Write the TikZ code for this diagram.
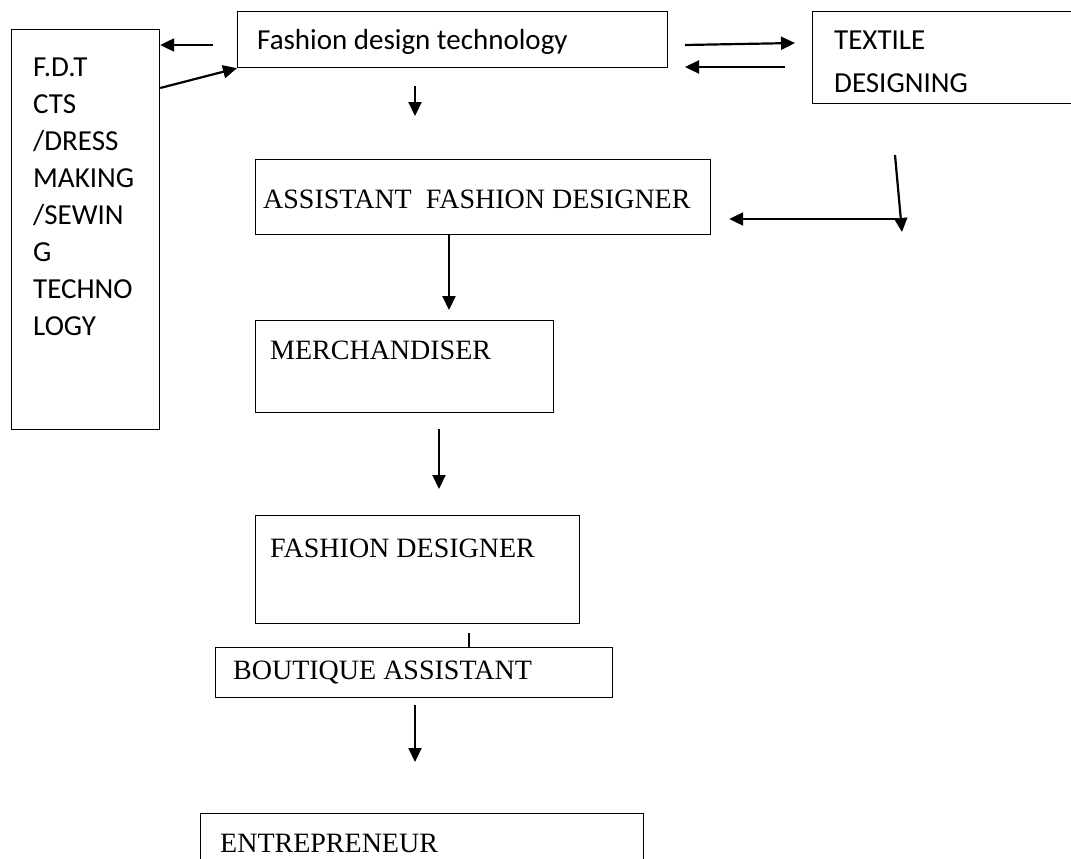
\documentclass[tikz,border=0pt]{standalone}
\usepackage{fontspec}
\setmainfont{Liberation Serif}
\newfontfamily\calibri{Carlito}
\usetikzlibrary{arrows.meta,positioning}

\tikzset{
  box/.style={draw,line width=1.2pt,anchor=north west,inner sep=0pt},
  serif/.style={font=\fontsize{28}{34}\selectfont,inner sep=0pt,anchor=west},
  sans/.style={font=\calibri\fontsize{29}{37}\selectfont,inner sep=0pt,align=left,anchor=north west},
  link/.style={-{Triangle[length=14pt,width=13pt]},line width=2.2pt},
}

\begin{document}
\begin{tikzpicture}[x=1pt,y=-1pt]
\useasboundingbox (0,0) rectangle (1071,859);

% boxes
\node[box,minimum width=148pt,minimum height=400pt] (fdt) at (11,29) {};
\node[box,minimum width=430pt,minimum height=56pt] (fashion) at (237,11) {};
\node[box,minimum width=270pt,minimum height=92pt] (textile) at (812,11) {};
\node[box,minimum width=455pt,minimum height=75pt] (assistant) at (255,159) {};
\node[box,minimum width=298pt,minimum height=92pt] (merch) at (255,320) {};
\node[box,minimum width=324pt,minimum height=108pt] (fashdes) at (255,515) {};
\node[box,minimum width=397pt,minimum height=50pt] (boutique) at (215,647) {};
\node[box,minimum width=443pt,minimum height=60pt] (entre) at (200,813) {};

% texts
\node[sans] (fdtText) at ([xshift=22pt,yshift=-29pt]fdt.north west)
  {F.D.T\\CTS\\/DRESS\\MAKING\\/SEWIN\\G\\TECHNO\\LOGY};
\node[sans,anchor=west] (fashionText) at ([xshift=20pt,yshift=-31pt]fashion.north west) {Fashion design technology};
\node[sans,font=\calibri\fontsize{29}{43}\selectfont] (textileText) at ([xshift=22pt,yshift=-20pt]textile.north west) {TEXTILE\\DESIGNING};
\node[serif] (assistantText) at ([xshift=8pt,yshift=-40pt]assistant.north west) {ASSISTANT\ \ FASHION DESIGNER};
\node[serif] (merchText) at ([xshift=15pt,yshift=-30pt]merch.north west) {MERCHANDISER};
\node[serif] (fashdesText) at ([xshift=15pt,yshift=-33pt]fashdes.north west) {FASHION DESIGNER};
\node[serif] (boutiqueText) at ([xshift=18pt,yshift=-25pt]boutique.north west) {BOUTIQUE ASSISTANT};
\node[serif] (entreText) at ([xshift=20pt,yshift=-30pt]entre.north west) {ENTREPRENEUR};

% loose arrow ends
\coordinate (fdtIn) at (213,45);
\coordinate (textOutA) at (685,45);
\coordinate (textInA) at (795,43);
\coordinate (textOutB) at (785,67);
\coordinate (textInB) at (685,67);
\coordinate (downA) at (415,86);
\coordinate (downB) at (415,116);
\coordinate (sideTop) at (895,155);
\coordinate (sideBot) at (902,232);
\coordinate (sideMid) at (898,219);
\coordinate (merchIn) at (449,310);
\coordinate (fdIn) at (439,489);
\coordinate (fdOut) at (439,429);
\coordinate (tickTop) at (469,633);
\coordinate (entreOut) at (415,705);
\coordinate (entreIn) at (415,762);

% arrows
\draw[link] (fdtIn) -- (fdtIn -| fdt.east);
\draw[link] (fdt.east |- 0,88) -- (fashion.south west);
\draw[link] (textOutA) -- (textInA);
\draw[link] (textOutB) -- (textInB);
\draw[link] (downA) -- (downB);
\draw[link] (sideTop) -- (sideBot);
\draw[link] (sideMid) -- ([xshift=18pt]sideMid -| assistant.east);
\draw[link] (assistant.south -| merchIn) -- (merchIn);
\draw[link] (fdOut) -- (fdIn);
\draw[line width=1.2pt] (tickTop) -- (tickTop |- boutique.north);
\draw[link] (entreOut) -- (entreIn);
\end{tikzpicture}
\end{document}
